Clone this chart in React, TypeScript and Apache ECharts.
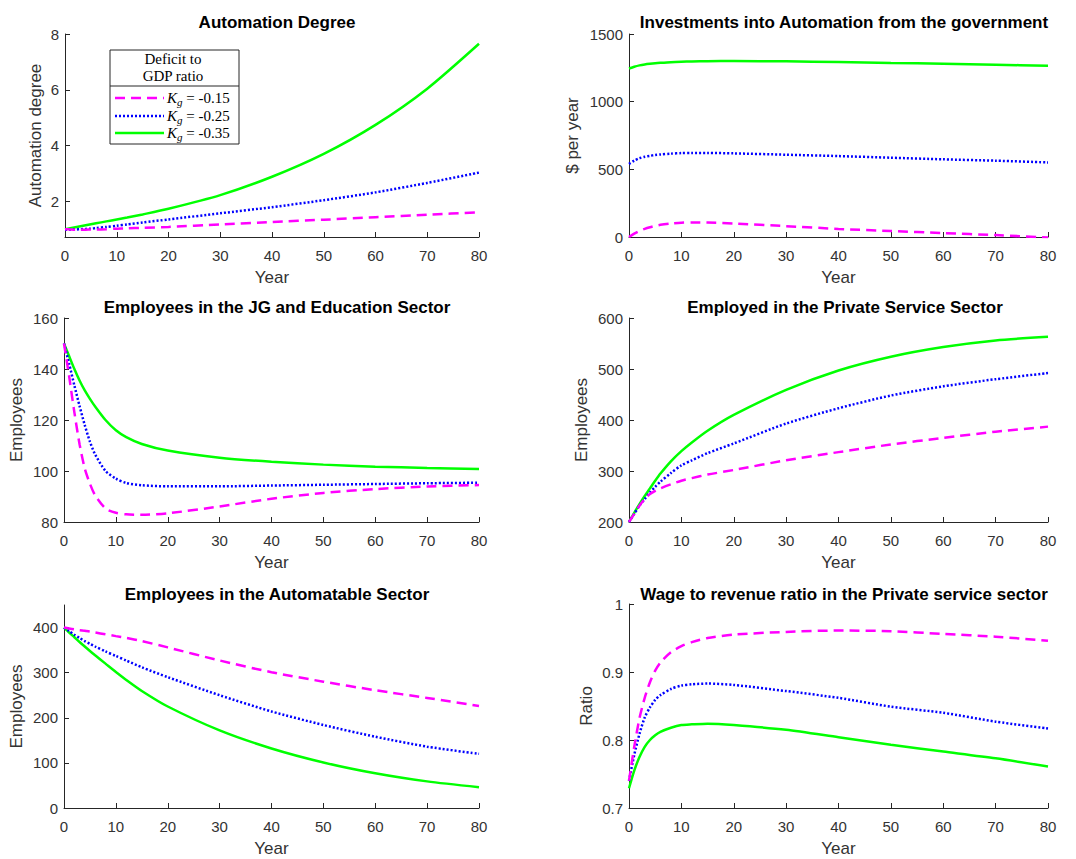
import React, { useEffect, useRef } from "react";
import * as echarts from "echarts";

const years = [0, 1, 2, 3, 4, 5, 6, 8, 10, 12, 15, 20, 30, 40, 50, 60, 70, 80];
const xTicks = [0, 10, 20, 30, 40, 50, 60, 70, 80];
const seriesNames = ["K_g = -0.15", "K_g = -0.25", "K_g = -0.35"];
const legendValues = ["-0.15", "-0.25", "-0.35"];
const legendTitle = ["Deficit to", "GDP ratio"];

const titles = [
  "Automation Degree",
  "Investments into Automation from the government",
  "Employees in the JG and Education Sector",
  "Employed in the Private Service Sector",
  "Employees in the Automatable Sector",
  "Wage to revenue ratio in the Private service sector",
];
const yNames = ["Automation degree", "$ per year", "Employees", "Employees", "Employees", "Ratio"];
const xName = "Year";

const yTicks1 = [2, 4, 6, 8];
const yTicks2 = [0, 500, 1000, 1500];
const yTicks3 = [80, 100, 120, 140, 160];
const yTicks4 = [200, 300, 400, 500, 600];
const yTicks5 = [0, 100, 200, 300, 400];
const yTicks6 = [0.7, 0.8, 0.9, 1];
const yRanges = [
  [0.72, 8],
  [0, 1500],
  [80, 160],
  [200, 600],
  [0, 450],
  [0.7, 1],
];

// Automation degree
const autoMag = [1.0, 0.99, 0.98, 0.98, 0.98, 0.99, 0.99, 1.0, 1.02, 1.03, 1.05, 1.08, 1.17, 1.26, 1.34, 1.43, 1.52, 1.61];
const autoBlue = [0.98, 0.98, 0.99, 1.0, 1.01, 1.02, 1.04, 1.08, 1.125, 1.17, 1.24, 1.35, 1.57, 1.79, 2.04, 2.32, 2.66, 3.03];
const autoGreen = [1.0, 1.035, 1.07, 1.105, 1.14, 1.175, 1.21, 1.28, 1.35, 1.42, 1.53, 1.73, 2.22, 2.88, 3.7, 4.74, 6.04, 7.65];

// Investments into automation
const invMag = [0, 25, 45, 60, 72, 82, 90, 100, 106, 108, 107, 100, 80, 60, 44, 29, 14, -4];
const invBlue = [540, 565, 582, 593, 600, 606, 610, 616, 620, 621, 621, 618, 608, 598, 586, 574, 564, 551];
const invGreen = [1245, 1258, 1268, 1275, 1280, 1284, 1287, 1292, 1295, 1297, 1299, 1300, 1298, 1293, 1286, 1280, 1273, 1266];

// JG and education sector
const jgMag = [150, 137, 123, 110.5, 101, 95, 90.5, 85.3, 83.6, 83, 82.8, 83.4, 86.1, 89.1, 91.4, 92.9, 93.9, 94.5];
const jgBlue = [150, 142, 133.5, 125.5, 118, 111.5, 106.5, 100, 97, 95.3, 94.4, 94, 94, 94.3, 94.6, 94.9, 95.2, 95.4];
const jgGreen = [150, 145, 140, 135.5, 131.6, 128.3, 125.3, 120, 116, 113.3, 110.6, 108, 105.2, 103.6, 102.5, 101.7, 101.2, 100.8];

// Private service sector
const psMag = [200, 216, 232, 245, 255, 261, 266, 274, 281, 286, 293, 302, 321, 337, 352, 365, 377, 387];
const psBlue = [200, 216, 232, 245, 258, 269, 279, 296, 311, 321, 335, 354, 393, 423, 448, 466, 480, 492];
const psGreen = [200, 218, 235, 251, 266, 281, 295, 319, 339, 356, 379, 410, 459, 497, 524, 543, 556, 563];

// Automatable sector
const asMag = [400, 398, 396, 394, 393, 391, 389, 385, 381, 377, 370, 356, 327, 301, 280, 261, 244, 226];
const asBlue = [400, 392, 384, 377, 370, 364, 358, 347, 337, 327, 312, 290, 250, 214, 184, 158, 136, 120];
const asGreen = [400, 389, 378.5, 368, 358, 348, 338.5, 320, 301.5, 284, 259.5, 225, 172, 132, 101, 77, 59, 46];

// Wage to revenue ratio
const wrMag = [0.74, 0.79, 0.832, 0.862, 0.885, 0.902, 0.914, 0.929, 0.938, 0.944, 0.95, 0.955, 0.959, 0.961, 0.96, 0.956, 0.952, 0.946];
const wrBlue = [0.74, 0.778, 0.809, 0.833, 0.848, 0.859, 0.866, 0.875, 0.88, 0.882, 0.883, 0.881, 0.872, 0.862, 0.849, 0.84, 0.827, 0.817];
const wrGreen = [0.729, 0.755, 0.775, 0.79, 0.8, 0.807, 0.812, 0.818, 0.822, 0.823, 0.824, 0.822, 0.815, 0.804, 0.793, 0.783, 0.773, 0.761];

const panels = [
  [autoMag, autoBlue, autoGreen],
  [invMag, invBlue, invGreen],
  [jgMag, jgBlue, jgGreen],
  [psMag, psBlue, psGreen],
  [asMag, asBlue, asGreen],
  [wrMag, wrBlue, wrGreen],
];
const yTicks = [yTicks1, yTicks2, yTicks3, yTicks4, yTicks5, yTicks6];

const colors = ["#ff00ff", "#0000ff", "#00ff00"];
const dashes: any[] = [[10, 6], [2, 2], "solid"];

const grids = [
  { left: 65, top: 34, width: 414, height: 203 },
  { left: 629, top: 34, width: 419, height: 203 },
  { left: 64, top: 318, width: 415, height: 204 },
  { left: 629, top: 318, width: 419, height: 204 },
  { left: 64, top: 605, width: 415, height: 203 },
  { left: 629, top: 604, width: 419, height: 204 },
];
const yNameGaps = [21, 48, 39, 39, 39, 34];
const titlePos = [
  { x: 272, y: 9 },
  { x: 839, y: 9 },
  { x: 272, y: 294 },
  { x: 840, y: 294 },
  { x: 272, y: 581 },
  { x: 839, y: 581 },
];

const FONT = "'Liberation Sans', Arial, Helvetica, sans-serif";
const SERIF = "'Liberation Serif', 'DejaVu Serif', serif";
const AXC = "#262626";
const LBL = "#333333";

function buildOption() {
  const xAxis = grids.map((_, i) => ({
    type: "value",
    gridIndex: i,
    min: 0,
    max: 80,
    interval: 10,
    name: xName,
    nameLocation: "middle",
    nameGap: 32,
    nameTextStyle: { fontFamily: FONT, fontSize: 17, color: LBL },
    axisLine: { show: true, onZero: false, lineStyle: { color: AXC, width: 1 } },
    axisTick: { show: true, inside: true, length: 5, lineStyle: { color: AXC } },
    axisLabel: {
      fontFamily: FONT,
      fontSize: 15,
      color: LBL,
      margin: 11,
      customValues: xTicks,
      formatter: (v: number) => String(v),
    },
    splitLine: { show: false },
  }));
  const yAxis = grids.map((_, i) => ({
    type: "value",
    gridIndex: i,
    min: yRanges[i][0],
    max: yRanges[i][1],
    name: yNames[i],
    nameLocation: "middle",
    nameGap: yNameGaps[i],
    nameTextStyle: { fontFamily: FONT, fontSize: 17, color: LBL },
    axisLine: { show: true, onZero: false, lineStyle: { color: AXC, width: 1 } },
    axisTick: { show: true, inside: true, length: 5, lineStyle: { color: AXC }, customValues: yTicks[i] },
    axisLabel: {
      fontFamily: FONT,
      fontSize: 15,
      color: LBL,
      margin: 6,
      customValues: yTicks[i],
      formatter: (v: number) => String(v),
    },
    splitLine: { show: false },
  }));
  const series: any[] = [];
  panels.forEach((p, i) => {
    p.forEach((vals, k) => {
      series.push({
        type: "line",
        name: seriesNames[k],
        xAxisIndex: i,
        yAxisIndex: i,
        data: years.map((y, j) => [y, vals[j]]),
        showSymbol: false,
        symbol: "none",
        smooth: 0.25,
        clip: true,
        lineStyle: { color: colors[k], width: 2.5, type: dashes[k], cap: "butt" },
        z: 2 + (2 - k),
      });
    });
  });
  const title = titles.map((t, i) => ({
    text: t,
    left: titlePos[i].x,
    top: titlePos[i].y,
    textAlign: "center",
    textStyle: { fontFamily: FONT, fontSize: 17, fontWeight: "bold", color: "#000" },
  }));

  const lx = 110, ly = 50, lw = 129, lh = 94;
  const rowY = [98, 116, 133];
  const legendChildren: any[] = [
    { type: "rect", shape: { x: lx, y: ly, width: lw, height: lh }, style: { fill: "#fff", stroke: AXC, lineWidth: 1 } },
    { type: "line", shape: { x1: lx, y1: 86, x2: lx + lw, y2: 86 }, style: { stroke: AXC, lineWidth: 1 } },
    { type: "text", x: 173, y: 59, style: { text: legendTitle[0], fontFamily: SERIF, fontSize: 15, fill: "#000", align: "center", verticalAlign: "middle" } },
    { type: "text", x: 173, y: 76, style: { text: legendTitle[1], fontFamily: SERIF, fontSize: 15, fill: "#000", align: "center", verticalAlign: "middle" } },
  ];
  legendValues.forEach((v, k) => {
    legendChildren.push({
      type: "line",
      shape: { x1: 115, y1: rowY[k], x2: 164, y2: rowY[k] },
      style: { stroke: colors[k], lineWidth: 2.5, lineDash: dashes[k] === "solid" ? null : dashes[k] },
    });
    legendChildren.push({
      type: "text",
      x: 167,
      y: rowY[k],
      style: {
        text: `{k|K}{g|g}{t| = ${v}}`,
        align: "left",
        verticalAlign: "middle",
        fill: "#000",
        rich: {
          k: { fontFamily: SERIF, fontStyle: "italic", fontSize: 15, fill: "#000" },
          g: { fontFamily: SERIF, fontStyle: "italic", fontSize: 11, fill: "#000", padding: [7, 0, 0, 0], verticalAlign: "bottom" },
          t: { fontFamily: SERIF, fontSize: 15, fill: "#000" },
        },
      },
    });
  });

  return {
    animation: false,
    backgroundColor: "#fff",
    title,
    grid: grids.map((g) => ({ ...g, containLabel: false })),
    xAxis,
    yAxis,
    series,
    graphic: [{ type: "group", z: 100, children: legendChildren }],
  };
}

export default function App() {
  const ref = useRef<HTMLDivElement>(null);
  useEffect(() => {
    const chart = echarts.init(ref.current!, null, { renderer: "svg" });
    chart.setOption(buildOption() as any);
    return () => chart.dispose();
  }, []);
  return (
    <div
      ref={ref}
      style={{ position: "fixed", left: 0, top: 0, width: 1076, height: 859, background: "#fff" }}
    />
  );
}
